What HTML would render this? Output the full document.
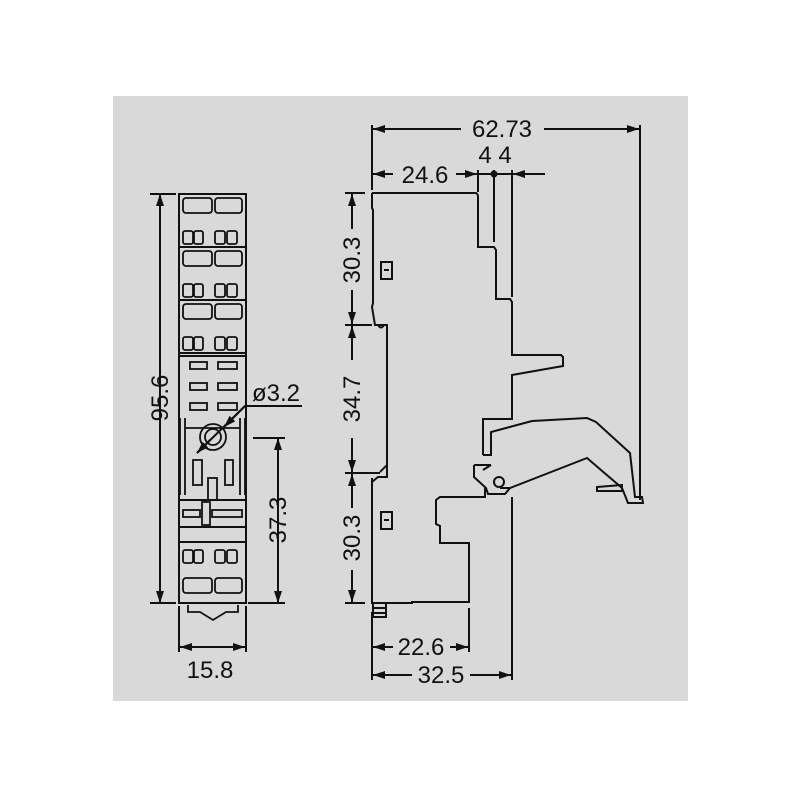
<!DOCTYPE html>
<html><head><style>
html,body{margin:0;padding:0;background:#fff;}
svg{display:block;}
text{font-family:"Liberation Sans",sans-serif;font-size:24px;fill:#111;}
</style></head><body>
<svg width="800" height="800" viewBox="0 0 800 800" xmlns="http://www.w3.org/2000/svg">
<defs>
<marker id="a" viewBox="0 0 12 8" refX="12" refY="4" markerWidth="12" markerHeight="8" markerUnits="userSpaceOnUse" orient="auto-start-reverse">
<path d="M0,0 L12,4 L0,8 Z" fill="#111"/>
</marker>
</defs>
<rect x="113" y="96" width="575" height="605" fill="#d9d9d9"/>
<g stroke="#111" stroke-width="2" fill="none">
<rect x="179" y="194" width="67" height="409"/>
<line x1="179" y1="247" x2="246" y2="247"/>
<line x1="179" y1="300" x2="246" y2="300"/>
<line x1="179" y1="353" x2="246" y2="353"/>
<line x1="179" y1="356" x2="246" y2="356"/>
<line x1="179" y1="500" x2="246" y2="500"/>
<line x1="179" y1="527" x2="246" y2="527"/>
<line x1="179" y1="542" x2="246" y2="542"/>
<g stroke-width="1.8">
<rect x="183" y="198" width="29" height="15" rx="3"/><rect x="215" y="198" width="27" height="15" rx="3"/>
<rect x="183" y="231" width="10" height="13" rx="2"/><rect x="194" y="231" width="9" height="13" rx="2"/><rect x="215" y="231" width="10" height="13" rx="2"/><rect x="227" y="231" width="10" height="13" rx="2"/>
<rect x="183" y="251" width="29" height="15" rx="3"/><rect x="215" y="251" width="27" height="15" rx="3"/>
<rect x="183" y="284" width="10" height="13" rx="2"/><rect x="194" y="284" width="9" height="13" rx="2"/><rect x="215" y="284" width="10" height="13" rx="2"/><rect x="227" y="284" width="10" height="13" rx="2"/>
<rect x="183" y="304" width="29" height="15" rx="3"/><rect x="215" y="304" width="27" height="15" rx="3"/>
<rect x="183" y="337" width="10" height="13" rx="2"/><rect x="194" y="337" width="9" height="13" rx="2"/><rect x="215" y="337" width="10" height="13" rx="2"/><rect x="227" y="337" width="10" height="13" rx="2"/>
<rect x="190" y="362" width="17" height="7"/><rect x="218" y="362" width="19" height="7"/>
<rect x="190" y="383" width="17" height="7"/><rect x="218" y="383" width="19" height="7"/>
<rect x="190" y="403" width="17" height="7"/><rect x="218" y="403" width="19" height="7"/>
<rect x="183" y="550" width="10" height="13" rx="2"/><rect x="194" y="550" width="9" height="13" rx="2"/><rect x="215" y="550" width="10" height="13" rx="2"/><rect x="227" y="550" width="10" height="13" rx="2"/>
<rect x="183" y="578" width="29" height="15" rx="3"/><rect x="215" y="578" width="27" height="15" rx="3"/>
<path d="M180,418 V495 M185,418 V495 M240,418 V495 M245,418 V495"/>
<path d="M185,428 H240"/>
<rect x="193" y="460" width="9" height="25"/><rect x="225" y="460" width="8" height="25"/>
<rect x="208" y="478" width="9" height="22"/>
<rect x="183" y="510" width="17" height="7"/><rect x="212" y="510" width="30" height="7"/>
<rect x="202" y="502" width="8" height="23"/>
<circle cx="213" cy="437" r="13"/><circle cx="213" cy="437" r="8"/>
<path d="M188,605 V612 L200,612 L213,620 L226,612 L238,612 V605"/>
</g>
<line x1="160" y1="194" x2="160" y2="603" marker-start="url(#a)" marker-end="url(#a)"/>
<line x1="150" y1="194" x2="176" y2="194"/>
<line x1="150" y1="603" x2="176" y2="603"/>
<line x1="179" y1="606" x2="179" y2="652"/><line x1="246" y1="606" x2="246" y2="652"/>
<line x1="180" y1="647" x2="245" y2="647" marker-start="url(#a)" marker-end="url(#a)"/>
<line x1="278" y1="438" x2="278" y2="603" marker-start="url(#a)" marker-end="url(#a)"/>
<line x1="253" y1="438" x2="285" y2="438"/>
<line x1="248" y1="603" x2="285" y2="603"/>
<path d="M302,406 H245 L197,453" />
<line x1="245" y1="406" x2="224" y2="427" marker-end="url(#a)"/>
<line x1="210" y1="440" x2="197" y2="453" marker-end="url(#a)"/>
<path d="M372,193 H476 Q478,194 478,197 V247 H494 L496,250 V299 H510 L512,302 V355 H561 L563,357 V366 L512,375 V420"/>
<path d="M372,193 V208 L373,210 V303 L372,307 L375,325 H387 V477 H378 L372,482 M380,472 L387,465"/>
<path d="M378,325 Q381,330 384,325"/>
<path d="M372,478 V603 H412 V602 H469 V543 H440 V526 L436,524 V500 L440,497 H485 V487"/>
<path d="M483,455 V419 H512"/>
<path d="M483,455 H491 V432 L532,421 L587,418 L596,422 L630,453 L635,497 L642,497 L643,503 L628,503 L622,488 L587,458 L510,488 H500"/>
<path d="M474,465 H491 M474,465 V477 L486,488 L488,494 H505 L510,488"/>
<path d="M483,470 L491,465"/>
<circle cx="499" cy="482" r="5"/>
<path d="M597,487 L622,485 L622,491 L597,491 Z"/>
<path d="M512,497 V680"/>
<path d="M469,608 V652"/>
<path d="M372,612 V680"/>
<rect x="373" y="603" width="13" height="14"/>
<path d="M373,608 H386 M373,613 H386"/>
<rect x="381" y="262" width="11" height="17"/><path d="M384,270 H389"/>
<rect x="381" y="512" width="11" height="17"/><path d="M384,520 H389"/>
<line x1="372" y1="125" x2="372" y2="190"/>
<line x1="640" y1="125" x2="640" y2="500"/>
<line x1="373" y1="129" x2="461" y2="129" marker-start="url(#a)"/>
<line x1="544" y1="129" x2="639" y2="129" marker-end="url(#a)"/>
<line x1="373" y1="174" x2="393" y2="174" marker-start="url(#a)"/>
<line x1="456" y1="174" x2="477" y2="174" marker-end="url(#a)"/>
<line x1="478" y1="170" x2="478" y2="192"/>
<line x1="478" y1="174" x2="512" y2="174"/>
<line x1="494" y1="170" x2="494" y2="242"/>
<line x1="512" y1="170" x2="512" y2="297"/>
<line x1="545" y1="174" x2="513" y2="174" marker-end="url(#a)"/>
<circle cx="494" cy="174" r="2.5" fill="#111"/>
<line x1="345" y1="193" x2="365" y2="193"/>
<line x1="345" y1="325" x2="372" y2="325"/>
<line x1="345" y1="473" x2="380" y2="473"/>
<line x1="345" y1="603" x2="365" y2="603"/>
<line x1="352" y1="229" x2="352" y2="194" marker-end="url(#a)"/>
<line x1="352" y1="290" x2="352" y2="324" marker-end="url(#a)"/>
<line x1="352" y1="360" x2="352" y2="326" marker-end="url(#a)"/>
<line x1="352" y1="438" x2="352" y2="472" marker-end="url(#a)"/>
<line x1="352" y1="508" x2="352" y2="474" marker-end="url(#a)"/>
<line x1="352" y1="570" x2="352" y2="602" marker-end="url(#a)"/>
<line x1="373" y1="647" x2="393" y2="647" marker-start="url(#a)"/>
<line x1="450" y1="647" x2="468" y2="647" marker-end="url(#a)"/>
<line x1="373" y1="675" x2="412" y2="675" marker-start="url(#a)"/>
<line x1="470" y1="675" x2="511" y2="675" marker-end="url(#a)"/>
</g>
<text x="210" y="678" text-anchor="middle">15.8</text>
<text x="276" y="401" text-anchor="middle">ø3.2</text>
<text transform="translate(168,398) rotate(-90)" text-anchor="middle">95.6</text>
<text transform="translate(286,520) rotate(-90)" text-anchor="middle">37.3</text>
<text x="502" y="137" text-anchor="middle">62.73</text>
<text x="425" y="183" text-anchor="middle">24.6</text>
<text x="495" y="163" text-anchor="middle">4 4</text>
<text transform="translate(360,260) rotate(-90)" text-anchor="middle">30.3</text>
<text transform="translate(360,399) rotate(-90)" text-anchor="middle">34.7</text>
<text transform="translate(360,538) rotate(-90)" text-anchor="middle">30.3</text>
<text x="421" y="655" text-anchor="middle">22.6</text>
<text x="441" y="683" text-anchor="middle">32.5</text>
</svg>
</body></html>
